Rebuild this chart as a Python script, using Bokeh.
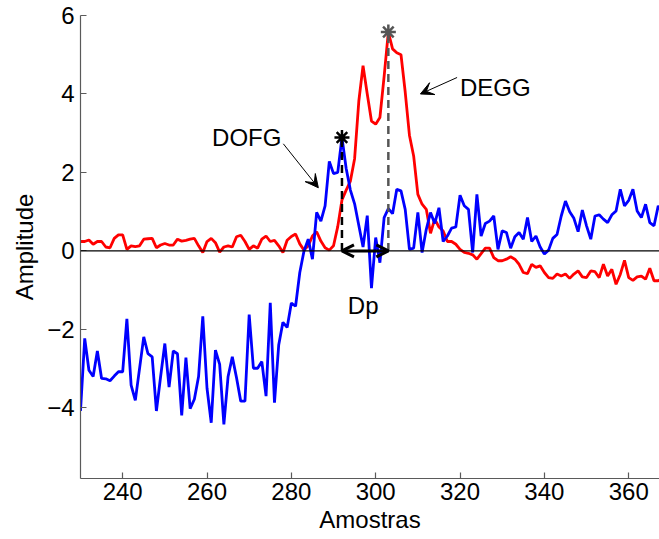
import numpy as np
from bokeh.plotting import figure
from bokeh.models import Range1d, Arrow, VeeHead, OpenHead, Label, Span, FixedTicker
from bokeh.embed import file_html
from bokeh.resources import INLINE

# ---------------- data ----------------
samples = list(range(230, 369))

dofg = [
    -4.08, -2.23, -3.04, -3.20, -2.55, -3.25, -3.26, -3.31, -3.19, -3.08,
    -3.08, -1.73, -3.42, -3.81, -3.00, -2.19, -2.62, -2.70, -4.08, -3.20,
    -2.36, -3.47, -2.55, -2.62, -4.19, -2.72, -4.02, -3.78, -3.20, -1.67,
    -3.50, -4.38, -2.53, -2.89, -4.42, -3.20, -2.70, -3.23, -3.83, -3.83,
    -1.62, -2.99, -2.99, -2.82, -3.70, -1.32, -3.87, -2.40, -1.82, -1.95,
    -1.33, -1.41, -0.55, 0.00, 0.30, -0.21, 0.98, 0.76, 1.15, 2.28,
    1.97, 2.00, 2.89, 2.10, 1.55, 1.20, 0.65, 0.10, 0.90, -0.95,
    0.34, -0.30, 0.85, 1.08, 0.95, 1.57, 1.53, 1.06, 0.04, 0.07,
    0.98, -0.04, 0.55, 0.98, 0.70, 1.10, 0.24, 0.38, 0.58, 0.61,
    1.42, 1.15, 1.06, -0.04, 1.44, 0.38, 0.70, 0.76, 0.89, 0.04,
    0.51, 0.47, 0.07, 0.36, 0.47, 0.30, 0.85, 0.24, 0.38, 0.10,
    -0.08, 0.02, 0.32, 0.42, 0.89, 1.27, 1.00, 0.83, 0.49, 1.04,
    0.64, 0.30, 0.89, 0.92, 0.81, 0.72, 0.92, 1.02, 1.57, 1.15,
    1.29, 1.57, 1.02, 0.85, 1.19, 0.72, 0.64, 1.15, 0.98,
]

degg = [
    0.24, 0.24, 0.28, 0.17, 0.24, 0.24, 0.10, 0.08, 0.32, 0.41,
    0.41, 0.04, 0.13, 0.11, 0.13, 0.30, 0.31, 0.32, 0.08, 0.15,
    0.19, 0.15, 0.15, 0.30, 0.25, 0.27, 0.30, 0.32, 0.13, -0.04,
    0.24, 0.32, 0.21, -0.03, 0.10, 0.13, 0.10, 0.36, 0.40, 0.24,
    0.04, 0.13, 0.07, 0.30, 0.38, 0.24, 0.27, 0.13, -0.04, 0.27,
    0.37, 0.43, 0.18, 0.02, 0.13, 0.38, 0.49, 0.25, 0.08, 0.02,
    0.13, 0.62, 1.30, 1.55, 1.78, 2.35, 3.82, 4.72, 4.00, 3.31,
    3.23, 3.40, 4.45, 5.58, 5.15, 5.05, 5.00, 4.05, 2.95, 2.42,
    1.44, 1.19, 1.06, 0.45, 0.81, 0.61, 0.51, 0.24, 0.24, 0.17,
    0.04, -0.04, -0.06, -0.10, -0.21, -0.07, 0.07, 0.07, -0.17, -0.25,
    -0.25, -0.21, -0.15, -0.21, -0.34, -0.55, -0.58, -0.34, -0.42, -0.38,
    -0.55, -0.68, -0.70, -0.59, -0.64, -0.59, -0.70, -0.59, -0.51, -0.66,
    -0.68, -0.51, -0.53, -0.68, -0.34, -0.64, -0.47, -0.85, -0.60, -0.24,
    -0.68, -0.75, -0.66, -0.64, -0.72, -0.44, -0.76, -0.76, -0.70,
]

x_ticks = [240, 260, 280, 300, 320, 340, 360]
y_ticks = [-4, -2, 0, 2, 4, 6]
y_tick_labels = {-4: "\u22124", -2: "\u22122", 0: "0", 2: "2", 4: "4", 6: "6"}

# peaks derived from the data
i_dofg = int(np.argmax(dofg))
i_degg = int(np.argmax(degg))
dofg_px, dofg_py = samples[i_dofg], dofg[i_dofg]
degg_px, degg_py = samples[i_degg], degg[i_degg]

FONT = "Liberation Sans"
FS = "24px"
AX_COLOR = "#5a5a5a"

p = figure(width=659, height=539, output_backend="svg", toolbar_location=None,
           x_range=Range1d(230, 367.3), y_range=Range1d(-5.8, 6),
           min_border_left=80, min_border_right=0, min_border_top=15,
           min_border_bottom=61)
p.outline_line_color = None
p.grid.visible = False
p.background_fill_color = "white"
p.border_fill_color = "white"

# zero line
p.add_layout(Span(location=0, dimension="width", line_color="black", line_width=1.2))

# series
p.line(samples, degg, line_color="#ff0000", line_width=2.8)
p.line(samples, dofg, line_color="#0000ff", line_width=2.8)

# dashed peak markers
p.segment(x0=[dofg_px], y0=[0], x1=[dofg_px], y1=[dofg_py],
          line_color="black", line_width=2.5, line_dash="8 5")
p.segment(x0=[degg_px], y0=[0], x1=[degg_px], y1=[degg_py],
          line_color="#555555", line_width=2.5, line_dash="8 5")

p.scatter([dofg_px], [dofg_py], marker="asterisk", size=15, line_width=2.5,
          line_color="black")
p.scatter([degg_px], [degg_py], marker="asterisk", size=15, line_width=2.5,
          line_color="#555555")

# Dp double arrow
p.add_layout(Arrow(x_start=dofg_px, y_start=0, x_end=degg_px, y_end=0,
                   line_width=3, line_color="black",
                   start=OpenHead(size=12, line_width=3, line_color="black"),
                   end=OpenHead(size=12, line_width=3, line_color="black")))

# annotation arrows
p.add_layout(Arrow(x_start=278.1, y_start=2.73, x_end=286.4, y_end=1.61,
                   line_width=1, line_color="black",
                   end=VeeHead(size=13, fill_color="black", line_color="black")))
p.add_layout(Arrow(x_start=319.3, y_start=4.42, x_end=310.6, y_end=4.0,
                   line_width=1, line_color="black",
                   end=VeeHead(size=13, fill_color="black", line_color="black")))

for txt, xx, yy in [("DOFG", 261.2, 2.88), ("DEGG", 320.0, 4.16), ("Dp", 293.4, -1.40)]:
    p.add_layout(Label(x=xx, y=yy, text=txt, text_font=FONT, text_font_size=FS,
                       text_color="black", text_baseline="alphabetic",
                       text_align="left"))

# axes
for ax in (p.xaxis[0], p.yaxis[0]):
    ax.axis_line_color = AX_COLOR
    ax.axis_line_width = 1.2
    ax.major_tick_line_color = AX_COLOR
    ax.major_tick_line_width = 1.2
    ax.major_tick_in = 6
    ax.major_tick_out = 0
    ax.minor_tick_line_color = None
    ax.major_label_text_font = FONT
    ax.major_label_text_font_size = FS
    ax.major_label_text_color = "black"
    ax.axis_label_text_font = FONT
    ax.axis_label_text_font_size = FS
    ax.axis_label_text_font_style = "normal"
    ax.axis_label_text_color = "black"

p.xaxis.ticker = FixedTicker(ticks=x_ticks)
p.yaxis.ticker = FixedTicker(ticks=y_ticks)
p.yaxis.major_label_overrides = y_tick_labels
p.xaxis.axis_label = "Amostras"
p.yaxis.axis_label = "Amplitude"
p.xaxis.major_label_standoff = 4
p.xaxis.axis_label_standoff = 3
p.yaxis.major_label_standoff = 6
p.yaxis.axis_label_standoff = 6

open("out.html", "w").write(file_html(p, INLINE))
